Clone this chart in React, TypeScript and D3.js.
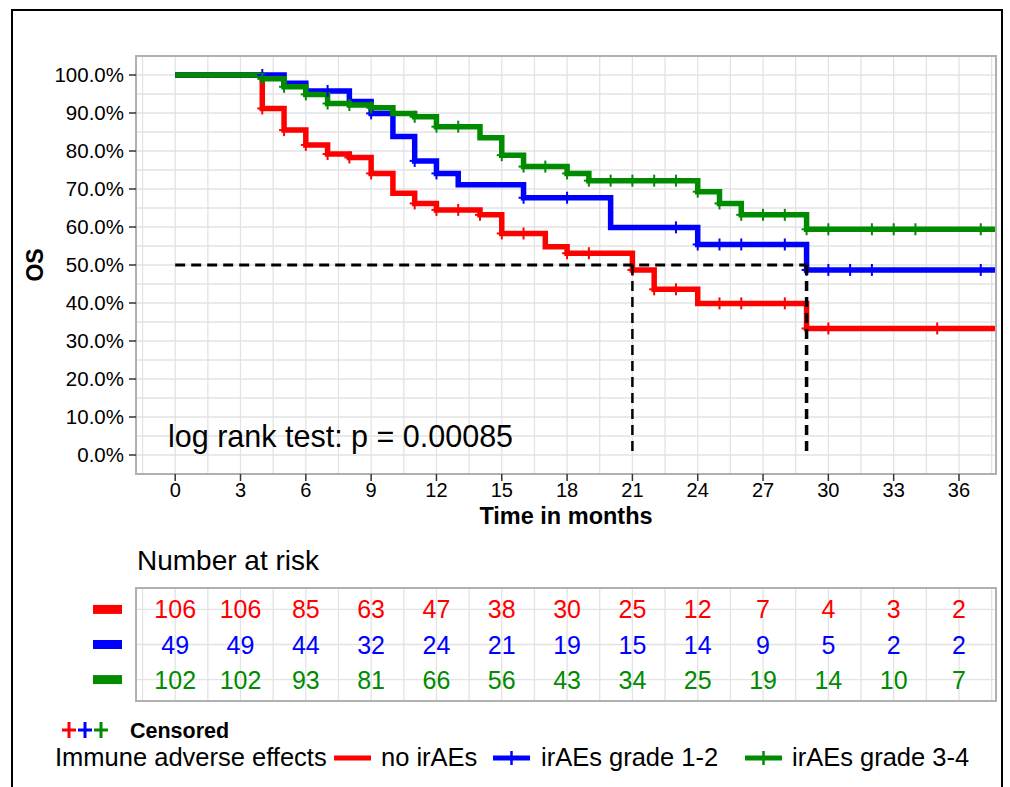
import React from 'react';
import * as d3 from 'd3';

// ---------- DATA ----------
const groupNames = ['no irAEs', 'irAEs grade 1-2', 'irAEs grade 3-4'];
const groupColors = ['#FF0000', '#0000FF', '#008B00'];

const redEventTimes = [4, 5, 6, 7, 8, 9, 10, 11, 12, 14, 15, 17, 18, 21, 22, 24, 29];
const redSurvival = [0.912, 0.855, 0.816, 0.792, 0.783, 0.741, 0.689, 0.662, 0.645, 0.632, 0.583, 0.548, 0.531, 0.487, 0.436, 0.399, 0.333];
const redCensorTimes = [4, 5, 6, 7, 8, 9, 11, 12, 13, 14, 15, 16, 18, 19, 21, 22, 23, 25, 26, 28, 29, 30, 35];

const blueEventTimes = [5, 6, 8, 9, 10, 11, 12, 13, 16, 20, 24, 29];
const blueSurvival = [0.978, 0.958, 0.93, 0.899, 0.838, 0.774, 0.741, 0.711, 0.677, 0.599, 0.554, 0.487];
const blueCensorTimes = [4, 7, 9, 11, 12, 16, 18, 23, 24, 25, 26, 28, 29, 30, 31, 32, 37];

const greenEventTimes = [4, 5, 6, 7, 8, 9, 10, 11, 12, 14, 15, 16, 18, 19, 24, 25, 26, 29];
const greenSurvival = [0.99, 0.969, 0.949, 0.925, 0.921, 0.914, 0.899, 0.89, 0.864, 0.835, 0.789, 0.759, 0.741, 0.722, 0.693, 0.662, 0.632, 0.594];
const greenCensorTimes = [4, 5, 6, 7, 8, 9, 11, 12, 13, 15, 16, 17, 18, 19, 20, 21, 22, 23, 24, 25, 26, 27, 28, 29, 30, 32, 33, 34, 37];

const medianTimes = [21, 29];
const medianLevel = 0.5;

const xTickValues = [0, 3, 6, 9, 12, 15, 18, 21, 24, 27, 30, 33, 36];
const yTickValues = [0, 0.1, 0.2, 0.3, 0.4, 0.5, 0.6, 0.7, 0.8, 0.9, 1.0];

const riskRed = [106, 106, 85, 63, 47, 38, 30, 25, 12, 7, 4, 3, 2];
const riskBlue = [49, 49, 44, 32, 24, 21, 19, 15, 14, 9, 5, 2, 2];
const riskGreen = [102, 102, 93, 81, 66, 56, 43, 34, 25, 19, 14, 10, 7];

const pValueText = 'log rank test: p = 0.00085';

// ---------- LAYOUT ----------
const W = 1010;
const H = 787;
const FONT = "'Liberation Sans', Arial, Helvetica, sans-serif";
const panel = { left: 136, right: 996, top: 56, bottom: 474 };
const table = { top: 588, bottom: 701 };
const xDomain: [number, number] = [-1.8, 37.7];

const series = [
  { ev: redEventTimes, sv: redSurvival, cens: redCensorTimes, color: groupColors[0], risk: riskRed },
  { ev: blueEventTimes, sv: blueSurvival, cens: blueCensorTimes, color: groupColors[1], risk: riskBlue },
  { ev: greenEventTimes, sv: greenSurvival, cens: greenCensorTimes, color: groupColors[2], risk: riskGreen },
];

function survAt(ev: number[], sv: number[], t: number) {
  let s = 1;
  for (let i = 0; i < ev.length; i++) if (ev[i] <= t) s = sv[i];
  return s;
}

export default function App() {
  const x = d3.scaleLinear().domain(xDomain).range([panel.left, panel.right]);
  const y = d3.scaleLinear().domain([-0.05, 1.05]).range([panel.bottom, panel.top]);
  const yRow = d3.scalePoint<number>().domain([0, 1, 2]).range([table.top, table.bottom]).padding(0.61);

  const line = d3
    .line<[number, number]>()
    .x((d) => x(d[0]))
    .y((d) => y(d[1]))
    .curve(d3.curveStepAfter);

  const vGrid = d3.range(-1.5, 37.6, 1.5);
  const hGrid = d3.range(0, 1.001, 0.05);
  const gridColor = '#E3E3E3';
  const borderColor = '#B0B0B0';

  return (
    <svg
      width={W}
      height={H}
      style={{ position: 'absolute', left: 0, top: 0, background: '#fff' }}
      fontFamily={FONT}
    >
      <rect x={0} y={0} width={W} height={H} fill="#fff" />
      {/* outer frame */}
      <path d={`M12,${H} L12,10 L1002,10 L1002,${H}`} fill="none" stroke="#000" strokeWidth={2} />

      {/* ---- main panel ---- */}
      <defs>
        <clipPath id="pclip">
          <rect x={panel.left} y={panel.top} width={panel.right - panel.left} height={panel.bottom - panel.top} />
        </clipPath>
      </defs>
      <g>
        {hGrid.map((v, i) => (
          <line key={'h' + i} x1={panel.left} x2={panel.right} y1={y(v)} y2={y(v)} stroke={gridColor} strokeWidth={1.3} />
        ))}
        {vGrid.map((v, i) => (
          <line key={'v' + i} x1={x(v)} x2={x(v)} y1={panel.top} y2={panel.bottom} stroke={gridColor} strokeWidth={1.3} />
        ))}
      </g>

      <g clipPath="url(#pclip)">
        {series.map((s, i) => {
          const pts: [number, number][] = [[0, 1]];
          s.ev.forEach((t, j) => pts.push([t, s.sv[j]]));
          pts.push([xDomain[1], s.sv[s.sv.length - 1]]);
          return (
            <path key={'c' + i} d={line(pts) || ''} fill="none" stroke={s.color} strokeWidth={5.5} strokeLinejoin="miter" />
          );
        })}
        {series.map((s, i) => (
          <g key={'cs' + i}>
            {s.cens.map((t, j) => {
              const cx = x(t);
              const cy = y(survAt(s.ev, s.sv, t));
              return (
                <g key={j} stroke={s.color} strokeWidth={2}>
                  <line x1={cx} x2={cx} y1={cy - 6} y2={cy + 6} />
                  <line x1={cx - 5} x2={cx + 5} y1={cy} y2={cy} />
                </g>
              );
            })}
          </g>
        ))}
        {/* median dashed lines */}
        <line
          x1={x(0)}
          x2={x(d3.max(medianTimes) as number)}
          y1={y(medianLevel)}
          y2={y(medianLevel)}
          stroke="#000"
          strokeWidth={3}
          strokeDasharray="10,6"
        />
        {medianTimes.map((t, i) => (
          <line
            key={'m' + i}
            x1={x(t)}
            x2={x(t)}
            y1={y(medianLevel)}
            y2={y(0)}
            stroke="#000"
            strokeWidth={i === 0 ? 2.5 : 3.5}
            strokeDasharray="10,6"
          />
        ))}
      </g>

      <rect
        x={panel.left}
        y={panel.top}
        width={panel.right - panel.left}
        height={panel.bottom - panel.top}
        fill="none"
        stroke={borderColor}
        strokeWidth={2}
      />

      <text x={168} y={447} fontSize={30.5} fill="#000">
        {pValueText}
      </text>

      {/* y axis */}
      {yTickValues.map((v, i) => (
        <g key={'yt' + i}>
          <line x1={panel.left - 7} x2={panel.left} y1={y(v)} y2={y(v)} stroke="#333" strokeWidth={1.5} />
          <text x={panel.left - 12} y={y(v)} dy="0.35em" textAnchor="end" fontSize={20.5} fill="#000">
            {(v * 100).toFixed(1) + '%'}
          </text>
        </g>
      ))}
      <text
        transform={`translate(43,${(panel.top + panel.bottom) / 2}) rotate(-90)`}
        textAnchor="middle"
        fontSize={23}
        fontWeight="bold"
        fill="#000"
      >
        OS
      </text>

      {/* x axis */}
      {xTickValues.map((v, i) => (
        <g key={'xt' + i}>
          <line x1={x(v)} x2={x(v)} y1={panel.bottom} y2={panel.bottom + 7} stroke="#333" strokeWidth={1.5} />
          <text x={x(v)} y={497} textAnchor="middle" fontSize={20} fill="#000">
            {v}
          </text>
        </g>
      ))}
      <text x={(panel.left + panel.right) / 2} y={524} textAnchor="middle" fontSize={23.5} fontWeight="bold" fill="#000">
        Time in months
      </text>

      {/* ---- risk table ---- */}
      <text x={137} y={570} fontSize={28} fill="#000">
        Number at risk
      </text>
      <g>
        {[0, 1, 2].map((r) => (
          <line key={'th' + r} x1={panel.left} x2={panel.right} y1={yRow(r)} y2={yRow(r)} stroke={gridColor} strokeWidth={1.3} />
        ))}
        {vGrid.map((v, i) => (
          <line key={'tv' + i} x1={x(v)} x2={x(v)} y1={table.top} y2={table.bottom} stroke={gridColor} strokeWidth={1.3} />
        ))}
      </g>
      <rect
        x={panel.left}
        y={table.top}
        width={panel.right - panel.left}
        height={table.bottom - table.top}
        fill="none"
        stroke={borderColor}
        strokeWidth={2}
      />
      {series.map((s, r) => (
        <g key={'row' + r}>
          <rect x={93} y={(yRow(r) as number) - 4.5} width={29} height={9} fill={s.color} />
          {s.risk.map((n, j) => (
            <text
              key={j}
              x={x(xTickValues[j])}
              y={yRow(r)}
              dy="0.36em"
              textAnchor="middle"
              fontSize={25}
              fill={s.color}
            >
              {n}
            </text>
          ))}
        </g>
      ))}

      {/* ---- legend ---- */}
      {groupColors.map((c, i) => (
        <g key={'cp' + i} stroke={c} strokeWidth={3}>
          <line x1={62 + i * 16} x2={76 + i * 16} y1={730} y2={730} />
          <line x1={69 + i * 16} x2={69 + i * 16} y1={722} y2={738} />
        </g>
      ))}
      <text x={130} y={738} fontSize={21.5} fontWeight="bold" fill="#000">
        Censored
      </text>

      <text x={55} y={766} fontSize={25.5} fill="#000">
        Immune adverse effects
      </text>
      <line x1={334} x2={371} y1={758} y2={758} stroke={groupColors[0]} strokeWidth={5} />
      <text x={381} y={766} fontSize={25.5} fill="#000">
        {groupNames[0]}
      </text>
      <line x1={493} x2={530} y1={758} y2={758} stroke={groupColors[1]} strokeWidth={5} />
      <line x1={511.5} x2={511.5} y1={751} y2={765} stroke={groupColors[1]} strokeWidth={2.5} />
      <text x={541} y={766} fontSize={25.5} fill="#000">
        {groupNames[1]}
      </text>
      <line x1={745} x2={782} y1={758} y2={758} stroke={groupColors[2]} strokeWidth={5} />
      <line x1={763.5} x2={763.5} y1={751} y2={765} stroke={groupColors[2]} strokeWidth={2.5} />
      <text x={792} y={766} fontSize={25.5} fill="#000">
        {groupNames[2]}
      </text>
    </svg>
  );
}
